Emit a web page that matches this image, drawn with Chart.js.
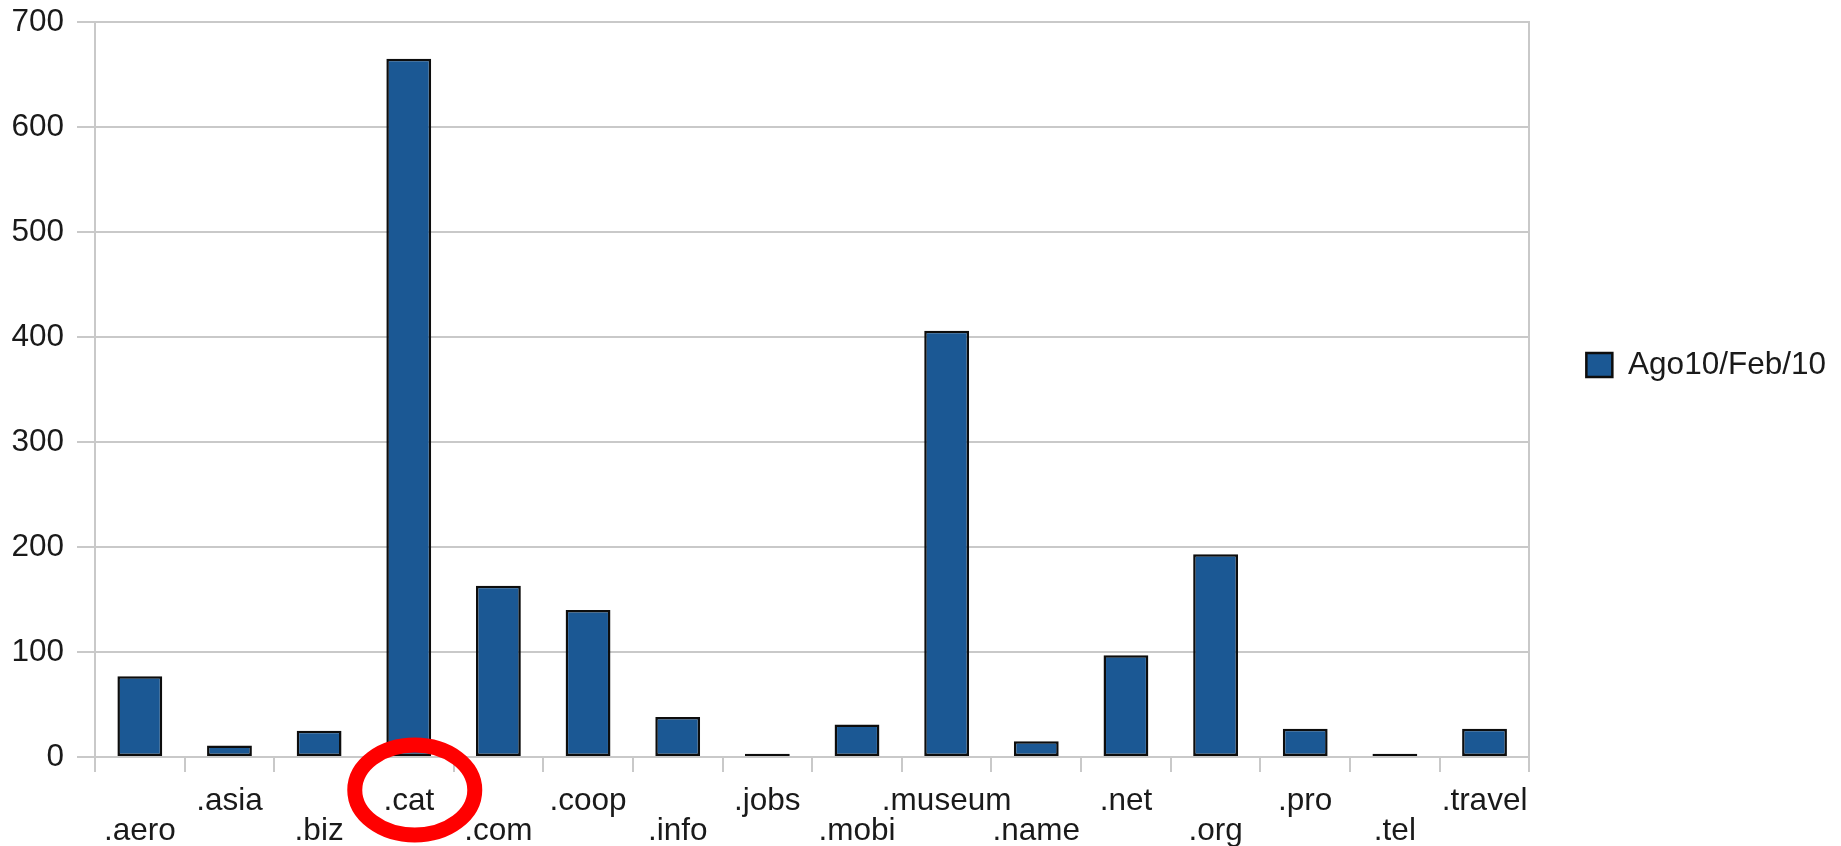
<!DOCTYPE html>
<html>
<head>
<meta charset="utf-8">
<script src="https://cdn.jsdelivr.net/npm/chart.js@4/dist/chart.umd.min.js"></script>
<style>
  html, body { margin: 0; padding: 0; background: #ffffff; }
  #wrap { width: 1841px; height: 846px; position: relative; }
</style>
</head>
<body>
<div id="wrap"><canvas id="c"></canvas></div>
<script>
const categories = ['.aero', '.asia', '.biz', '.cat', '.com', '.coop', '.info', '.jobs', '.mobi', '.museum', '.name', '.net', '.org', '.pro', '.tel', '.travel'];
const seriesName = 'Ago10/Feb/10';
const seriesValues = [77, 11, 25, 665, 163, 140, 38, 3, 31, 406, 15, 97, 193, 27, 3, 27];
const yTicks = [0, 100, 200, 300, 400, 500, 600, 700];
const highlightCategory = '.cat';

const FONT = "'Liberation Sans', Arial, Helvetica, sans-serif";
const TEXT = '#1a1a1a';
const GRID = '#c9c9c9';

const highlightPlugin = {
  id: 'highlight',
  afterDraw(chart) {
    const x = chart.scales.x;
    const idx = categories.indexOf(highlightCategory);
    if (idx < 0) return;
    const cx = x.getPixelForValue(idx) + 6;
    const cy = x.top + 33;
    const ctx = chart.ctx;
    ctx.save();
    ctx.beginPath();
    ctx.ellipse(cx, cy, 60, 45, 0, 0, Math.PI * 2);
    ctx.lineWidth = 15;
    ctx.strokeStyle = '#ff0000';
    ctx.stroke();
    ctx.restore();
  }
};

new Chart(document.getElementById('c'), {
  type: 'bar',
  data: {
    labels: categories,
    datasets: [{
      label: seriesName,
      data: seriesValues,
      backgroundColor: '#1b5894',
      borderColor: '#0d0d0d',
      borderWidth: 2.5,
      borderSkipped: false,
      categoryPercentage: 1.0,
      barPercentage: 0.5
    }]
  },
  options: {
    responsive: true,
    maintainAspectRatio: false,
    animation: false,
    devicePixelRatio: 1,
    layout: { padding: { left: 0, right: 5, top: 22, bottom: 0 } },
    plugins: {
      tooltip: { enabled: false },
      legend: {
        position: 'right',
        align: 'start',
        title: { display: true, text: '', font: { size: 1 }, padding: { top: 316, bottom: 0 } },
        labels: {
          boxWidth: 26,
          boxHeight: 24,
          padding: 10,
          color: TEXT,
          font: { family: FONT, size: 31.5 }
        }
      }
    },
    scales: {
      x: {
        offset: true,
        grid: {
          offset: true,
          drawOnChartArea: false,
          drawTicks: true,
          tickLength: 15,
          color: GRID,
          lineWidth: 2
        },
        border: { display: true, color: GRID, width: 2 },
        ticks: {
          color: TEXT,
          font: { family: FONT, size: 31.5, lineHeight: '30px' },
          padding: 14,
          maxRotation: 0,
          minRotation: 0,
          autoSkip: false,
          callback: function(value, index) {
            const lab = categories[index];
            return index % 2 === 0 ? ['', lab] : [lab, ''];
          }
        },
        afterFit: function(scale) { scale.height = 89; scale.paddingLeft = 0; scale.paddingRight = 0; }
      },
      y: {
        min: 0,
        max: 700,
        afterBuildTicks: function(scale) { scale.ticks = yTicks.map(v => ({ value: v })); },
        grid: { color: GRID, lineWidth: 2, tickLength: 18 },
        border: { display: true, color: GRID, width: 2 },
        ticks: {
          color: TEXT,
          font: { family: FONT, size: 31.5 },
          padding: 13
        },
        afterFit: function(scale) { scale.width = 95; scale.paddingTop = 0; scale.paddingBottom = 0; }
      },
      y2: {
        position: 'right',
        display: true,
        grid: { display: false },
        ticks: { display: false },
        border: { display: true, color: GRID, width: 2 },
        afterFit: function(scale) { scale.width = 47; scale.paddingTop = 0; scale.paddingBottom = 0; }
      }
    }
  },
  plugins: [highlightPlugin]
});
</script>
</body>
</html>
